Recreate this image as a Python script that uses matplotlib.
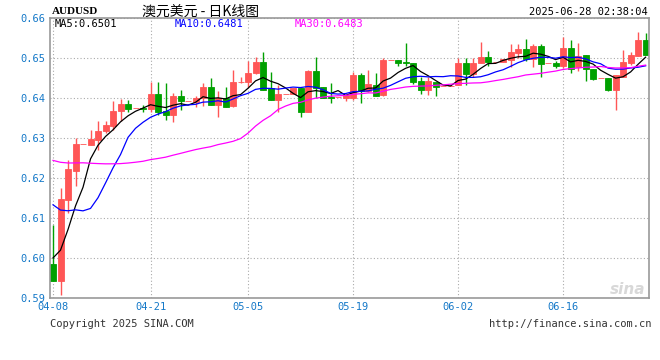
import numpy as np
import pandas as pd
import matplotlib
matplotlib.use("Agg")
import matplotlib.pyplot as plt

# =====================
# Data (AUDUSD daily K)
# =====================

opens = [0.5985, 0.5943, 0.6146, 0.6218, 0.6285, 0.6283, 0.6296, 0.6318, 0.6331, 0.6368,
         0.6385, 0.6375, 0.6375, 0.6373, 0.6410, 0.6367, 0.6358, 0.6404, 0.6392, 0.6390,
         0.6399, 0.6428, 0.6383, 0.6399, 0.6380, 0.6441, 0.6441, 0.6462, 0.6491, 0.6424,
         0.6395, 0.6410, 0.6409, 0.6424, 0.6366, 0.6468, 0.6428, 0.6403, 0.6403, 0.6399,
         0.6399, 0.6458, 0.6418, 0.6433, 0.6408, 0.6495, 0.6495, 0.6491, 0.6488, 0.6443,
         0.6420, 0.6441, 0.6430, 0.6430, 0.6433, 0.6488, 0.6460, 0.6488, 0.6503, 0.6491,
         0.6490, 0.6495, 0.6513, 0.6522, 0.6497, 0.6530, 0.6487, 0.6487, 0.6481, 0.6526,
         0.6477, 0.6508, 0.6473, 0.6449, 0.6449, 0.6420, 0.6453, 0.6487, 0.6506, 0.6545]
highs = [0.6083, 0.6175, 0.6246, 0.6300, 0.6285, 0.6321, 0.6342, 0.6343, 0.6393, 0.6398,
         0.6396, 0.6375, 0.6382, 0.6439, 0.6440, 0.6438, 0.6413, 0.6421, 0.6392, 0.6404,
         0.6437, 0.6451, 0.6417, 0.6427, 0.6470, 0.6452, 0.6493, 0.6503, 0.6516, 0.6466,
         0.6432, 0.6410, 0.6424, 0.6424, 0.6470, 0.6503, 0.6428, 0.6437, 0.6403, 0.6408,
         0.6466, 0.6462, 0.6470, 0.6462, 0.6499, 0.6495, 0.6495, 0.6538, 0.6488, 0.6453,
         0.6453, 0.6441, 0.6430, 0.6430, 0.6499, 0.6499, 0.6499, 0.6541, 0.6518, 0.6491,
         0.6497, 0.6535, 0.6535, 0.6547, 0.6535, 0.6535, 0.6487, 0.6493, 0.6552, 0.6545,
         0.6537, 0.6508, 0.6473, 0.6449, 0.6449, 0.6458, 0.6520, 0.6516, 0.6566, 0.6563]
lows = [0.5942, 0.5908, 0.6113, 0.6179, 0.6285, 0.6283, 0.6271, 0.6313, 0.6321, 0.6342,
        0.6364, 0.6375, 0.6364, 0.6364, 0.6358, 0.6346, 0.6340, 0.6371, 0.6392, 0.6377,
        0.6380, 0.6383, 0.6353, 0.6378, 0.6378, 0.6438, 0.6428, 0.6460, 0.6420, 0.6395,
        0.6366, 0.6410, 0.6409, 0.6352, 0.6364, 0.6399, 0.6399, 0.6387, 0.6403, 0.6393,
        0.6395, 0.6388, 0.6416, 0.6406, 0.6406, 0.6495, 0.6481, 0.6481, 0.6434, 0.6409,
        0.6408, 0.6405, 0.6430, 0.6430, 0.6433, 0.6433, 0.6453, 0.6487, 0.6480, 0.6491,
        0.6489, 0.6477, 0.6501, 0.6493, 0.6477, 0.6453, 0.6487, 0.6474, 0.6474, 0.6463,
        0.6468, 0.6443, 0.6445, 0.6449, 0.6418, 0.6370, 0.6453, 0.6483, 0.6506, 0.6508]
closes = [0.5943, 0.6148, 0.6223, 0.6285, 0.6285, 0.6298, 0.6318, 0.6333, 0.6368, 0.6385,
          0.6373, 0.6375, 0.6373, 0.6410, 0.6365, 0.6358, 0.6404, 0.6392, 0.6392, 0.6400,
          0.6428, 0.6383, 0.6399, 0.6378, 0.6441, 0.6441, 0.6463, 0.6491, 0.6420, 0.6395,
          0.6410, 0.6410, 0.6424, 0.6366, 0.6468, 0.6424, 0.6399, 0.6399, 0.6403, 0.6408,
          0.6458, 0.6418, 0.6435, 0.6406, 0.6495, 0.6495, 0.6488, 0.6487, 0.6441, 0.6420,
          0.6443, 0.6428, 0.6430, 0.6430, 0.6488, 0.6460, 0.6488, 0.6503, 0.6491, 0.6491,
          0.6497, 0.6514, 0.6522, 0.6497, 0.6530, 0.6485, 0.6487, 0.6481, 0.6526, 0.6472,
          0.6505, 0.6473, 0.6448, 0.6449, 0.6420, 0.6458, 0.6491, 0.6508, 0.6545, 0.6508]

# closes before the visible window (estimated), needed for the moving averages
prev_closes = [0.6290, 0.6275, 0.6281, 0.6275, 0.6330, 0.6345, 0.6352, 0.6365, 0.6370, 0.6330,
               0.6315, 0.6301, 0.6285, 0.6280, 0.6262, 0.6255, 0.6255, 0.6248, 0.6261, 0.6315,
               0.6280, 0.6240, 0.6262, 0.6310, 0.6238, 0.6050, 0.5965, 0.5990, 0.6052]

date_pos = [0, 13, 26, 40, 54, 68]
date_labels = ["04-08", "04-21", "05-05", "05-19", "06-02", "06-16"]
y_ticks = [0.59, 0.60, 0.61, 0.62, 0.63, 0.64, 0.65, 0.66]

# =====================
# Moving averages
# =====================

all_close = pd.Series(prev_closes + closes)
n_prev = len(prev_closes)
ma5 = all_close.rolling(5).mean().values[n_prev:]
ma10 = all_close.rolling(10).mean().values[n_prev:]
ma30 = all_close.rolling(30).mean().values[n_prev:]

# =====================
# Plot
# =====================

UP = "#ff5656"
DOWN = "#00a000"
BLUE_TXT = "#1478c8"
MONO = "DejaVu Sans Mono"

fig = plt.figure(figsize=(6.6, 3.6), dpi=100)
ax = fig.add_axes([50 / 660, 62 / 360, 599 / 660, 280 / 360])

x = np.arange(len(closes))
o = np.array(opens)
c = np.array(closes)
h = np.array(highs)
l = np.array(lows)
colors = [UP if cc >= oo else DOWN for oo, cc in zip(o, c)]

ax.vlines(x, l, h, colors=colors, linewidth=1, zorder=2)
ax.bar(x, np.abs(c - o), bottom=np.minimum(o, c), width=0.8, color=colors,
       edgecolor=colors, linewidth=0.6, zorder=2)

ax.plot(x, ma5, color="black", linewidth=0.9, zorder=3)
ax.plot(x, ma10, color="#0000ff", linewidth=0.9, zorder=3)
ax.plot(x, ma30, color="#ff00ff", linewidth=0.9, zorder=3)

ax.set_xlim(-0.4, 79.45)
ax.set_ylim(0.59, 0.66)

ax.set_yticks(y_ticks)
ax.set_yticklabels(["%.2f" % v for v in y_ticks], color=BLUE_TXT, family=MONO, fontsize=7.5)
ax.set_xticks(date_pos)
ax.set_xticklabels(date_labels, color=BLUE_TXT, family=MONO, fontsize=7.5)
ax.tick_params(length=0, pad=3)

ax.grid(True, color="#aaaaaa", linestyle=(0, (1, 2)), linewidth=0.8)
ax.set_axisbelow(True)
for sp in ax.spines.values():
    sp.set_color("#999999")
    sp.set_linewidth(1.2)

# legend row inside the plot
fig.text(55 / 660, 336 / 360, "MA5:0.6501", color="black",
         family=MONO, fontsize=7.5, va="center")
fig.text(175 / 660, 336 / 360, "MA10:0.6481", color="#0000ff",
         family=MONO, fontsize=7.5, va="center")
fig.text(295 / 660, 336 / 360, "MA30:0.6483", color="#ff00ff",
         family=MONO, fontsize=7.5, va="center")

# header
fig.text(52 / 660, 348 / 360, "AUDUSD", family="Liberation Serif", fontweight="bold",
         fontsize=8, va="center")
fig.text(201 / 660, 348 / 360, "澳元美元 - 日K线图", family=["Noto Sans CJK SC", "DejaVu Sans"],
         fontsize=10, ha="center", va="center")
fig.text(648 / 660, 348 / 360, "2025-06-28 02:38:04", family=MONO, fontsize=7.5,
         ha="right", va="center")

# footer
fig.text(50 / 660, 36 / 360, "Copyright 2025 SINA.COM", family=MONO, fontsize=7.5,
         color="#333333", va="center")
fig.text(652 / 660, 36 / 360, "http://finance.sina.com.cn", family=MONO, fontsize=7.5,
         color="#333333", ha="right", va="center")

# watermark
fig.text(645 / 660, 70 / 360, "sina", fontsize=11, fontweight="bold", style="italic",
         color="#d8d8d8", ha="right", va="center")

fig.savefig("out.png", dpi=100)
